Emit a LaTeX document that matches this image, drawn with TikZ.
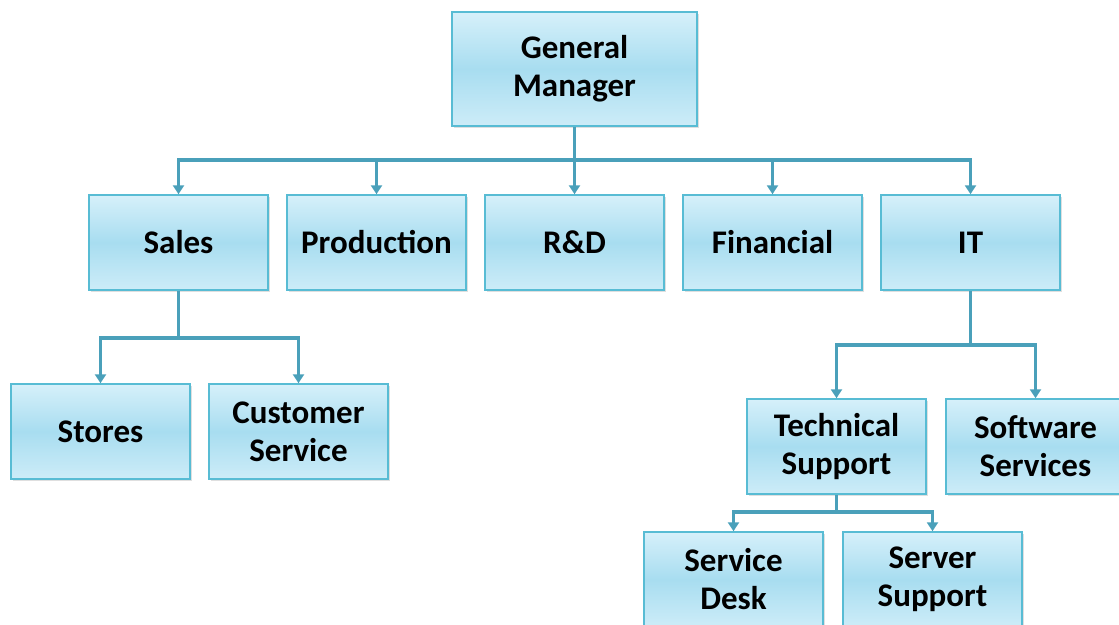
\documentclass[tikz,border=0pt]{standalone}
\usepackage{fontspec}
\setmainfont{Carlito}
\usepackage{tikz}
\usetikzlibrary{positioning,arrows.meta,shadows}

\definecolor{boxline}{RGB}{88,188,212}
\definecolor{boxtop}{RGB}{214,240,250}
\definecolor{boxmid}{RGB}{168,221,240}
\definecolor{wire}{RGB}{74,160,186}

\begin{document}
\begin{tikzpicture}[x=1pt,y=-1pt,
	unit/.style={rectangle,draw=boxline,line width=1.5pt,top color=boxtop,bottom color=boxtop!80!boxmid,middle color=boxmid,
		minimum width=179pt,minimum height=95pt,align=center,font=\fontsize{33}{38}\selectfont\bfseries,
		drop shadow={shadow xshift=2pt,shadow yshift=-2pt,opacity=0.25}},
	wire/.style={draw=wire,line width=3.2pt},
	arr/.style={wire,-{Triangle[length=9pt,width=11pt]}}]
	\useasboundingbox (0,0) rectangle (1119,624);

			%top node
			\node [unit,minimum width=245pt,minimum height=114pt] (gm) at (574.5,69) {General\\Manager};

			%departments
			\node [unit] (sales) at (178.5,242.5) {Sales};
			\node [unit] (prod) at (376.5,242.5) {Production};
			\node [unit] (rd) at (574.5,242.5) {R\&D};
			\node [unit] (fin) at (772.5,242.5) {Financial};
			\node [unit] (it) at (970.5,242.5) {IT};

			%sub units
			\node [unit] (stores) at (100.5,431.5) {Stores};
			\node [unit] (cust) at (298.5,431.5) {Customer\\Service};
			\node [unit] (tech) at (836.5,446.5) {Technical\\Support};
			\node [unit] (soft) at (1035.5,446.5) {Software\\Services};
			\node [unit] (desk) at (733.5,579.5) {Service\\Desk};
			\node [unit] (server) at (932.5,579.5) {Server\\Support};

			%bus points
			\coordinate (b1) at (574.5,160);
			\coordinate (b2) at (178.5,338);
			\coordinate (b3) at (970.5,345);
			\coordinate (b4) at (836.5,512);

			%edges
			\draw [wire] (gm.south) -- (b1);
			\foreach \n in {sales,prod,rd,fin,it}
				\draw [arr] (b1) -| (\n.north);
			\draw [wire] (sales.south) -- (b2);
			\draw [arr] (b2) -| (stores.north);
			\draw [arr] (b2) -| (cust.north);
			\draw [wire] (it.south) -- (b3);
			\draw [arr] (b3) -| (tech.north);
			\draw [arr] (b3) -| (soft.north);
			\draw [wire] (tech.south) -- (b4);
			\draw [arr] (b4) -| (desk.north);
			\draw [arr] (b4) -| (server.north);
		\end{tikzpicture}
\end{document}
